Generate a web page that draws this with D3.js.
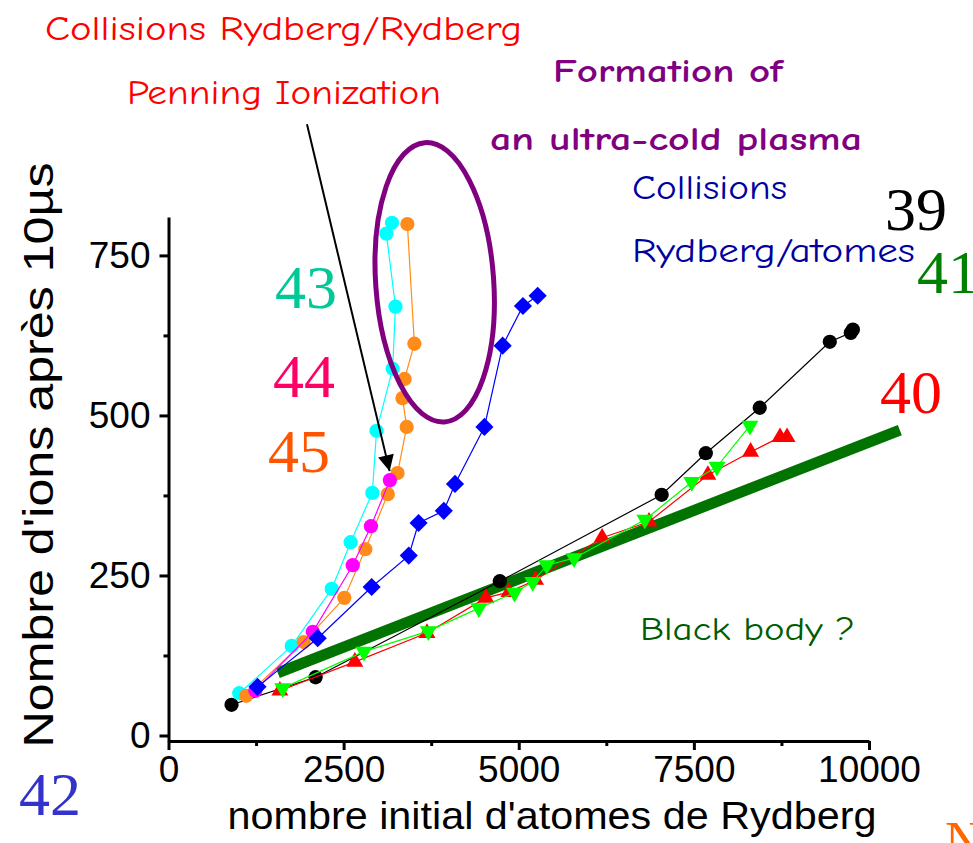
<!DOCTYPE html>
<html lang="fr">
<head>
<meta charset="UTF-8">
<title>Nombre d'ions après 10µs</title>
<script src="https://d3js.org/d3.v7.min.js"></script>
<style>
    body { margin: 0; background: #fff; }
    .comic { font-family: "Comic Sans MS", "Comic Neue", "Noto Sans", sans-serif; }
    .serif { font-family: "Liberation Serif", "Times New Roman", serif; }
    .axis text { font-family: "Liberation Sans", Arial, sans-serif; font-size: 37px; fill: #000; }
    .axis path, .axis line { stroke: #000; stroke-width: 3; }
</style>
</head>
<body>
<div id="chart"></div>
<script>
// data: [atomes de Rydberg, ions]
const n39 = [[900,48],[2100,91],[4730,241],[7040,376],[7670,441],[8440,512],[9440,615],[9740,629],[9770,634]];
const n40 = [[1590,70],[2660,115],[3690,160],[4530,215],[4860,224],[5240,243],[6190,309],[6860,334],[7700,407],[8310,443],[8730,466],[8830,466]];
const n41 = [[1630,74],[2790,131],[3710,163],[4430,199],[4940,223],[5200,240],[5400,266],[5790,277],[6800,337],[7470,396],[7830,420],[8300,484]];
const n42 = [[1270,76],[2130,152],[2900,232],[3430,281],[3570,332],[3930,351],[4090,393],[4510,482],[4770,609],[5060,671],[5270,687]];
const n43 = [[1010,66],[1760,140],[2330,229],[2600,302],[2910,379],[2970,476],[3200,573],[3240,670],[3110,784],[3190,801]];
const n44 = [[1240,70],[2060,162],[2630,266],[2890,327],[3160,399]];
const n45 = [[1110,62],[1930,146],[2510,215],[2810,291],[3130,377],[3270,410],[3400,482],[3340,527],[3370,557],[3510,612],[3410,799]];
const blackBody = [[1560,98],[10440,477]];

const xTicks = [0, 2500, 5000, 7500, 10000];
const xMinor = [1250, 3750, 6250, 8750];
const yTicks = [0, 250, 500, 750];
const yMinor = [125, 375, 625];

const W = 973, H = 843;
const svg = d3.select("#chart").append("svg")
    .attr("width", W).attr("height", H);

const x = d3.scaleLinear().domain([0, 10000]).range([168.5, 869]);
const y = d3.scaleLinear().domain([-8.6, 810]).range([741, 217]);

// axes
svg.append("g").attr("class", "axis")
    .attr("transform", "translate(0,741)")
    .call(d3.axisBottom(x).tickValues(xMinor).tickSize(5).tickFormat(""))
    .select(".domain").remove();
svg.append("g").attr("class", "axis")
    .attr("transform", "translate(0,741)")
    .call(d3.axisBottom(x).tickValues(xTicks).tickSize(9).tickSizeOuter(0).tickPadding(6).tickFormat(d3.format("d")));

svg.append("g").attr("class", "axis")
    .attr("transform", "translate(168.5,0)")
    .call(d3.axisLeft(y).tickValues(yMinor).tickSize(5).tickFormat(""))
    .select(".domain").remove();
svg.append("g").attr("class", "axis")
    .attr("transform", "translate(168.5,0)")
    .call(d3.axisLeft(y).tickValues(yTicks).tickSize(9).tickSizeOuter(0).tickPadding(9).tickFormat(d3.format("d")));

svg.append("text")
    .attr("x", 552).attr("y", 829)
    .attr("text-anchor", "middle")
    .attr("textLength", 649).attr("lengthAdjust", "spacingAndGlyphs")
    .style("font-family", "'Liberation Sans', Arial, sans-serif")
    .style("font-size", "39px")
    .text("nombre initial d'atomes de Rydberg");

svg.append("text")
    .attr("transform", "translate(53,455) rotate(-90)")
    .attr("text-anchor", "middle")
    .attr("textLength", 585).attr("lengthAdjust", "spacingAndGlyphs")
    .style("font-family", "'Liberation Sans', Arial, sans-serif")
    .style("font-size", "43px")
    .text("Nombre d'ions après 10µs");

// black body thick line (under the data)
const line = d3.line().x(d => x(d[0])).y(d => y(d[1]));
svg.append("path")
    .attr("d", line(blackBody))
    .attr("fill", "none")
    .attr("stroke", "#007300")
    .attr("stroke-width", 11);

// series
const series = [
    { data: n39, color: "#000000", shape: "circle" },
    { data: n40, color: "#ff0000", shape: "up" },
    { data: n41, color: "#00ff00", shape: "down" },
    { data: n43, color: "#00ffff", shape: "circle" },
    { data: n45, color: "#ff8c1a", shape: "circle" },
    { data: n44, color: "#ff00ff", shape: "circle" },
    { data: n42, color: "#0000ff", shape: "diamond" }
];

const sym = {
    circle: d3.symbol().type(d3.symbolCircle).size(160),
    up: d3.symbol().type(d3.symbolTriangle).size(125),
    down: d3.symbol().type(d3.symbolTriangle).size(125),
    diamond: d3.symbol().type(d3.symbolSquare).size(165)
};
const rot = { circle: 0, up: 0, down: 180, diamond: 45 };

series.forEach(s => {
    svg.append("path")
        .attr("d", line(s.data))
        .attr("fill", "none")
        .attr("stroke", s.color)
        .attr("stroke-width", 1.2);
    svg.append("g").selectAll("path")
        .data(s.data)
        .join("path")
        .attr("transform", d => `translate(${x(d[0])},${y(d[1])}) rotate(${rot[s.shape]})`)
        .attr("d", sym[s.shape]())
        .attr("fill", s.color);
});

// purple ellipse (ultra-cold plasma)
svg.append("ellipse")
    .attr("transform", `translate(${x(3800)},${y(708)}) rotate(-4)`)
    .attr("rx", 59).attr("ry", 140)
    .attr("fill", "none")
    .attr("stroke", "#800080")
    .attr("stroke-width", 5);

// arrow Penning
svg.append("defs").append("marker")
    .attr("id", "head")
    .attr("viewBox", "0 0 10 10")
    .attr("refX", 10).attr("refY", 5)
    .attr("markerWidth", 9).attr("markerHeight", 8)
    .attr("markerUnits", "strokeWidth")
    .attr("orient", "auto")
    .append("path").attr("d", "M0,0L10,5L0,10Z").attr("fill", "#000");
svg.append("line")
    .attr("x1", x(1977)).attr("y1", y(955))
    .attr("x2", x(3157)).attr("y2", y(413))
    .attr("stroke", "#000").attr("stroke-width", 2)
    .attr("marker-end", "url(#head)");

// annotations
const notes = [
    { t: "Collisions Rydberg/Rydberg", x: 45, y: 40, w: 477, c: "#ff0000", s: 34, cls: "comic" },
    { t: "Penning Ionization", x: 127, y: 104, w: 314, c: "#ff0000", s: 34, cls: "comic" },
    { t: "Formation of", x: 553, y: 82, w: 230, c: "#800080", s: 32, cls: "comic", b: true },
    { t: "an ultra-cold plasma", x: 490, y: 150, w: 372, c: "#800080", s: 32, cls: "comic", b: true },
    { t: "Collisions", x: 632, y: 199, w: 155, c: "#0000a0", s: 34, cls: "comic" },
    { t: "Rydberg/atomes", x: 632, y: 262, w: 283, c: "#0000a0", s: 34, cls: "comic" },
    { t: "Black body ?", x: 640, y: 640, w: 215, c: "#005c00", s: 32, cls: "comic" },
    { t: "39", x: 885, y: 230, c: "#000000", s: 62, cls: "serif" },
    { t: "41", x: 917, y: 293, c: "#008000", s: 62, cls: "serif" },
    { t: "40", x: 880, y: 413, c: "#ff0000", s: 62, cls: "serif" },
    { t: "43", x: 275, y: 308, c: "#00c896", s: 62, cls: "serif" },
    { t: "44", x: 273, y: 397, c: "#ff0066", s: 62, cls: "serif" },
    { t: "45", x: 268, y: 472, c: "#ff5500", s: 62, cls: "serif" },
    { t: "42", x: 19, y: 815, c: "#3333cc", s: 62, cls: "serif" },
    { t: "N", x: 945, y: 858, c: "#ff6600", s: 52, cls: "serif" }
];
notes.forEach(n => {
    const t = svg.append("text")
        .attr("class", n.cls)
        .attr("x", n.x).attr("y", n.y)
        .style("font-size", n.s + "px")
        .style("font-weight", n.b ? "bold" : "normal")
        .attr("fill", n.c)
        .text(n.t);
    if (n.w) t.attr("textLength", n.w).attr("lengthAdjust", "spacingAndGlyphs");
});
</script>
</body>
</html>
